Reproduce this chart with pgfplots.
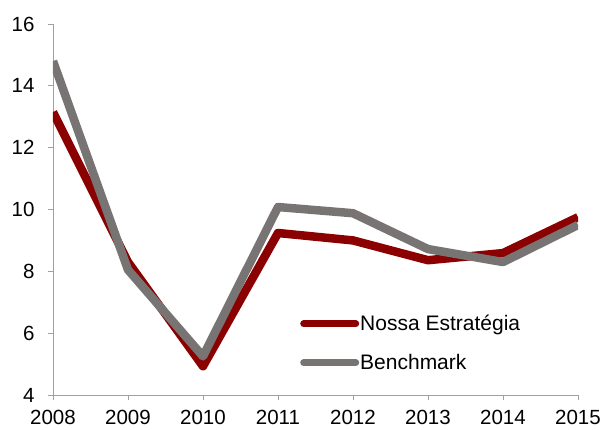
\documentclass[border=0pt]{standalone}
\usepackage{pgfplots}
\pgfplotsset{compat=1.18}
\usepackage{fontspec}
\setmainfont{Liberation Sans}
\definecolor{nossa}{RGB}{139,0,0}
\definecolor{bench}{RGB}{120,116,116}
\definecolor{axisgray}{RGB}{160,160,160}
\begin{document}
\begin{tikzpicture}
\begin{axis}[
  at={(0,0)}, anchor=south west,
  scale only axis, width=525pt, height=371pt,
  xmin=2008, xmax=2015, ymin=4, ymax=16,
  xtick={2008,2009,...,2015}, ytick={4,6,...,16},
  axis x line*=bottom, axis y line*=left,
  axis line style={-, axisgray, line width=0.8pt},
  tick align=outside, major tick length=5pt,
  tick style={axisgray, line width=0.8pt},
  /pgf/number format/1000 sep={},
  /pgf/number format/assume math mode=true,
  tick label style={font=\fontsize{20.5}{24}\selectfont, black},
  yticklabel style={xshift=-10pt},
  xticklabel style={yshift=-7pt},
  legend style={draw=none, fill=none, at={(0.4705,0.218)}, anchor=north west,
    font=\fontsize{21}{25}\selectfont, row sep=20pt, inner sep=0pt,
    nodes={inner sep=1pt}},
  legend cell align=left,
  legend image code/.code={\draw[#1, line width=7pt, line cap=round] (0pt,0pt) -- (52pt,0pt);},
]
\addplot[nossa, line width=8.5pt, line join=round] coordinates {
 (2008,13.15) (2009,8.3) (2010,4.93) (2011,9.24) (2012,9.0) (2013,8.36) (2014,8.59) (2015,9.75)};
\addlegendentry{Nossa Estratégia}
\addplot[bench, line width=8.5pt, line join=round] coordinates {
 (2008,14.8) (2009,8.05) (2010,5.25) (2011,10.08) (2012,9.88) (2013,8.72) (2014,8.3) (2015,9.5)};
\addlegendentry{Benchmark}
\end{axis}
\pgfresetboundingbox
\path[use as bounding box] (-53pt,-34pt) rectangle (550pt,395pt);
\end{tikzpicture}
\end{document}
